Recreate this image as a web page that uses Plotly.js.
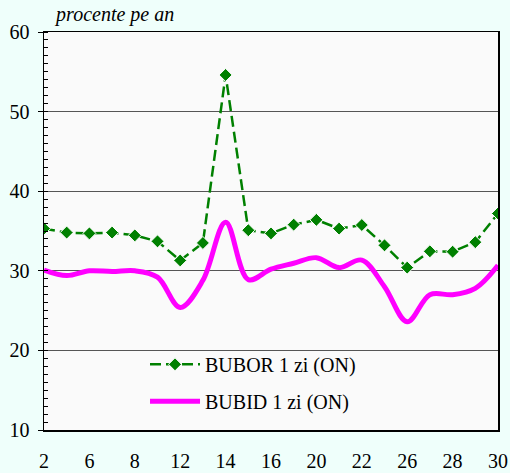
<!DOCTYPE html>
<html><head><meta charset="utf-8">
<script src="https://cdn.plot.ly/plotly-3.0.1.min.js"></script>
<style>
html,body{margin:0;padding:0;background:#EFFFFB;}
</style>
</head><body>
<div id="chart" style="width:510px;height:473px;"></div>
<script>
const days = ['2','5','6','7','8','9','12','13','14','15','16','19','20','21','22','23','26','27','28','29','30'];
const tickDays = ['2','6','8','12','14','16','20','22','26','28','30'];
const bubor = [35.3,34.8,34.7,34.8,34.45,33.7,31.3,33.5,54.6,35.1,34.7,35.8,36.4,35.3,35.75,33.2,30.4,32.45,32.4,33.6,37.2];
const bubid = [30.1,29.4,30.0,29.9,30.0,29.2,25.4,28.8,36.1,28.9,30.2,30.95,31.65,30.4,31.35,28.0,23.6,27.0,27.0,27.8,30.7];
const yTicks = [10,20,30,40,50,60];

const FONT = 'Liberation Serif';

const traces = [
  {x: days, y: bubor, name: 'BUBOR 1 zi (ON)', type: 'scatter', mode: 'lines+markers',
   line: {color: '#008000', width: 2.5, dash: '11px,5px'},
   marker: {symbol: 'diamond', size: 10, color: '#008000', line: {color: '#ffffff', width: 1}},
   legendgroup: 'a'},
  {x: days, y: bubid, name: 'BUBID 1 zi (ON)', type: 'scatter', mode: 'lines',
   line: {color: '#FF00FF', width: 5, shape: 'spline', smoothing: 1},
   legendgroup: 'b'}
];

const layout = {
  width: 510, height: 473,
  paper_bgcolor: '#EFFFFB', plot_bgcolor: '#FAFAFA',
  margin: {l: 44, r: 12, t: 32, b: 43},
  font: {family: FONT, color: '#000'},
  title: {text: '<i>procente pe an</i>', font: {family: FONT, size: 20, color: '#000'},
          xref: 'container', yref: 'container', x: 0.110, xanchor: 'left', y: 0.970, yanchor: 'middle'},
  xaxis: {type: 'category', range: [0, days.length - 1], tickmode: 'array', tickvals: tickDays, ticktext: tickDays,
          showgrid: false, showline: true, linecolor: '#000', linewidth: 1.5, mirror: true,
          ticks: '', ticklabelstandoff: 12, tickfont: {family: FONT, size: 20}},
  yaxis: {range: [10, 60], tickmode: 'array', tickvals: yTicks, showgrid: true, gridcolor: '#555', gridwidth: 1,
          showline: true, linecolor: '#000', linewidth: 1.5, mirror: true, zeroline: false,
          ticks: 'outside', ticklen: 5, tickcolor: '#000', ticklabelstandoff: 4, tickfont: {family: FONT, size: 20},
          minor: {dtick: 1, ticks: 'inside', ticklen: 4, tickcolor: '#000', showgrid: false}},
  showlegend: true,
  legend: {x: 0.2225, y: 0.214, xanchor: 'left', yanchor: 'top', bgcolor: 'rgba(0,0,0,0)',
           font: {family: FONT, size: 20}, traceorder: 'grouped', tracegroupgap: 8, itemwidth: 50},
  shapes: [{type: 'rect', xref: 'paper', yref: 'paper', x0: 0.156, x1: 0.762, y0: 0.03, y1: 0.214,
            fillcolor: '#FAFAFA', line: {width: 0}, layer: 'between'}]
};

Plotly.newPlot('chart', traces, layout, {displayModeBar: false, staticPlot: true});
</script>
</body></html>
